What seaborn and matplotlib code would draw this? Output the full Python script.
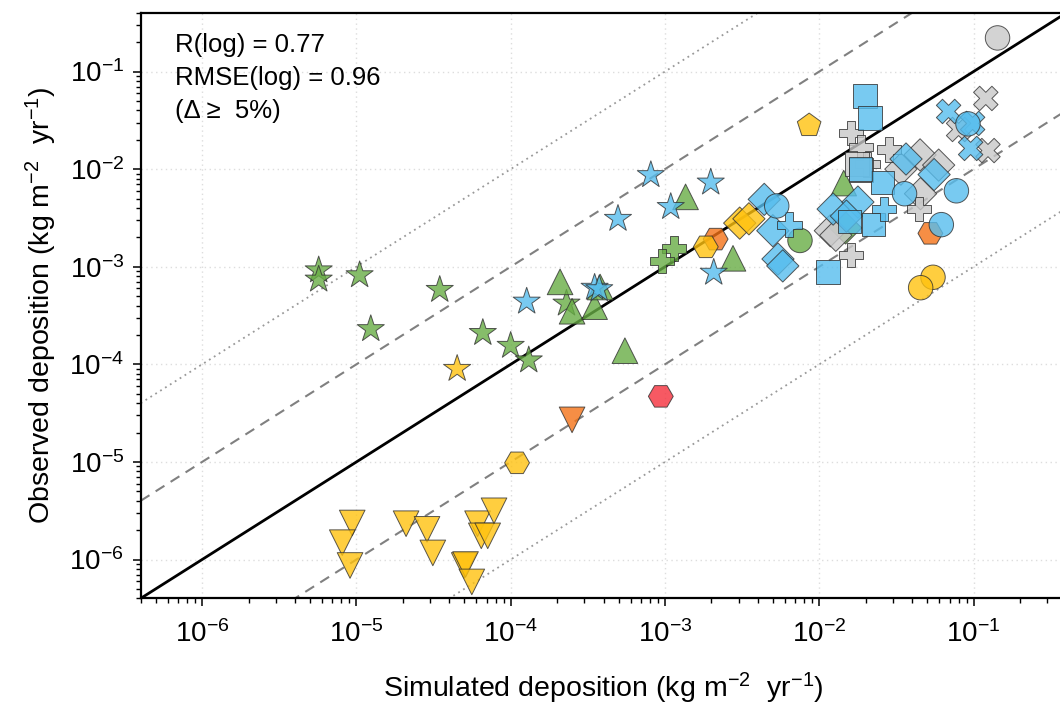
import numpy as np
import pandas as pd
import matplotlib
matplotlib.use("Agg")
import matplotlib.pyplot as plt
from matplotlib.ticker import FixedLocator, LogLocator, FuncFormatter, NullFormatter
import seaborn as sns

# ---------------- data (simulated, observed) ----------------
green_star_sim = [5.7e-6, 5.7e-6, 1.05e-5, 1.24e-5, 3.47e-5, 6.6e-5, 1.0e-4, 1.31e-4, 2.3e-4]
green_star_obs = [9.2e-4, 7.4e-4, 8.2e-4, 2.3e-4, 5.8e-4, 2.1e-4, 1.55e-4, 1.1e-4, 4.2e-4]

blue_star_sim = [1.27e-4, 3.5e-4, 3.75e-4, 4.96e-4, 8.1e-4, 1.09e-3, 1.98e-3, 2.07e-3]
blue_star_obs = [4.4e-4, 6.1e-4, 5.9e-4, 3.1e-3, 8.7e-3, 4.1e-3, 7.3e-3, 8.7e-4]

yellow_star_sim = [4.5e-5]
yellow_star_obs = [9.0e-5]

green_tri_sim = [2.09e-4, 2.5e-4, 3.5e-4, 3.8e-4, 5.5e-4, 1.36e-3, 2.76e-3, 1.44e-2]
green_tri_obs = [7.0e-4, 3.5e-4, 3.9e-4, 6.2e-4, 1.38e-4, 5.2e-3, 1.22e-3, 7.2e-3]

yellow_tdown_sim = [9.4e-6, 8.1e-6, 9.1e-6, 2.1e-5, 2.87e-5, 3.13e-5, 5.0e-5, 5.1e-5,
                    5.6e-5, 6.1e-5, 6.45e-5, 7.1e-5, 7.8e-5]
yellow_tdown_obs = [2.37e-6, 1.49e-6, 8.7e-7, 2.33e-6, 2.04e-6, 1.17e-6, 8.7e-7, 8.9e-7,
                    5.9e-7, 2.33e-6, 1.75e-6, 1.75e-6, 3.16e-6]

orange_tdown_sim = [2.5e-4]
orange_tdown_obs = [2.7e-5]

red_hex_sim = [9.4e-4]
red_hex_obs = [4.7e-5]

yellow_hex_sim = [1.1e-4, 1.84e-3]
yellow_hex_obs = [9.8e-6, 1.6e-3]

orange_hex_sim = [2.13e-3, 0.0525]
orange_hex_obs = [1.92e-3, 2.2e-3]

yellow_pent_sim = [8.6e-3]
yellow_pent_obs = [0.028]

yellow_diam_sim = [3.05e-3, 3.5e-3]
yellow_diam_obs = [2.8e-3, 3.1e-3]

yellow_circ_sim = [0.0546, 0.0454]
yellow_circ_obs = [7.8e-4, 6.1e-4]

green_plus_sim = [1.14e-3, 9.6e-4]
green_plus_obs = [1.54e-3, 1.15e-3]

green_circ_sim = [7.5e-3]
green_circ_obs = [1.86e-3]

green_diam_sim = [0.0148]
green_diam_obs = [2.5e-3]

gray_diam_sim = [0.045, 0.0594, 0.0338, 0.0453, 0.0118, 0.0128]
gray_diam_obs = [0.014, 0.011, 0.0100, 5.6e-3, 2.34e-3, 2.1e-3]

gray_plus_sim = [0.0161, 0.0187, 0.0283, 0.0161, 0.0443, 0.0205]
gray_plus_obs = [0.0236, 0.0168, 0.0159, 1.32e-3, 3.9e-3, 0.0112]

gray_sq_sim = [0.0176, 0.0187]
gray_sq_obs = [0.0113, 0.0098]

gray_x_sim = [0.12, 0.080, 0.124]
gray_x_obs = [0.053, 0.0255, 0.0155]

gray_circ_sim = [0.143]
gray_circ_obs = [0.221]

blue_diam_sim = [4.4e-3, 5.0e-3, 5.4e-3, 5.8e-3, 0.0123, 0.0178, 0.0365, 0.0555, 0.0150]
blue_diam_obs = [4.9e-3, 2.34e-3, 1.2e-3, 1.02e-3, 3.9e-3, 4.6e-3, 0.0127, 8.8e-3, 3.3e-3]

blue_circ_sim = [5.3e-3, 0.0357, 0.0774, 0.0618, 0.092]
blue_circ_obs = [4.2e-3, 5.6e-3, 6.0e-3, 2.7e-3, 0.0291]

blue_sq_sim = [0.0197, 0.0214, 0.0257, 0.0114, 0.0157, 0.0225, 0.0185]
blue_sq_obs = [0.056, 0.0335, 7.3e-3, 8.9e-4, 2.9e-3, 2.7e-3, 0.0100]

blue_plus_sim = [6.4e-3, 0.0263]
blue_plus_obs = [2.7e-3, 3.9e-3]

blue_x_sim = [0.0689, 0.0986, 0.0957]
blue_x_obs = [0.039, 0.0294, 0.0163]

tick_values = [1e-6, 1e-5, 1e-4, 1e-3, 1e-2, 1e-1]
annot_lines = ["R(log) = 0.77", "RMSE(log) = 0.96", "(Δ ≥  5%)"]
x_label = r"Simulated deposition (kg m$\mathregular{^{-2}}$  yr$\mathregular{^{-1}}$)"
y_label = r"Observed deposition (kg m$\mathregular{^{-2}}$  yr$\mathregular{^{-1}}$)"
axis_limits = [4e-7, 4e-1]

# ---------------- build table ----------------
groups = [
    ("yellow", "tdown", yellow_tdown_sim, yellow_tdown_obs),
    ("green", "star", green_star_sim, green_star_obs),
    ("yellow", "star", yellow_star_sim, yellow_star_obs),
    ("green", "tri", green_tri_sim, green_tri_obs),
    ("orange", "tdown", orange_tdown_sim, orange_tdown_obs),
    ("red", "hex", red_hex_sim, red_hex_obs),
    ("blue", "star", blue_star_sim, blue_star_obs),
    ("green", "plus", green_plus_sim, green_plus_obs),
    ("orange", "hex", orange_hex_sim, orange_hex_obs),
    ("yellow", "hex", yellow_hex_sim, yellow_hex_obs),
    ("yellow", "diam", yellow_diam_sim, yellow_diam_obs),
    ("yellow", "pent", yellow_pent_sim, yellow_pent_obs),
    ("yellow", "circ", yellow_circ_sim, yellow_circ_obs),
    ("green", "circ", green_circ_sim, green_circ_obs),
    ("green", "diam", green_diam_sim, green_diam_obs),
    ("gray", "diam", gray_diam_sim, gray_diam_obs),
    ("gray", "plus", gray_plus_sim, gray_plus_obs),
    ("gray", "sq", gray_sq_sim, gray_sq_obs),
    ("gray", "x", gray_x_sim, gray_x_obs),
    ("gray", "circ", gray_circ_sim, gray_circ_obs),
    ("blue", "diam", blue_diam_sim, blue_diam_obs),
    ("blue", "sq", blue_sq_sim, blue_sq_obs),
    ("blue", "plus", blue_plus_sim, blue_plus_obs),
    ("blue", "x", blue_x_sim, blue_x_obs),
    ("blue", "circ", blue_circ_sim, blue_circ_obs),
]
rows = []
for col, shp, xs, ys in groups:
    for xv, yv in zip(xs, ys):
        rows.append({"sim": xv, "obs": yv, "colour": col, "shape": shp})
df = pd.DataFrame(rows)

palette = {"green": "#68AD45", "blue": "#56BDEE", "gray": "#C9C9C9",
           "yellow": "#FFC20F", "orange": "#F47216", "red": "#F5303C"}
markers = {"star": "*", "tri": "^", "tdown": "v", "sq": "s", "diam": "D",
           "circ": "o", "plus": "P", "x": "X", "pent": "p", "hex": "H"}
marker_area = {"star": 420, "tri": 340, "tdown": 340, "sq": 290, "diam": 270,
               "circ": 310, "plus": 310, "x": 310, "pent": 320, "hex": 320}

# ---------------- style ----------------
sns.set_style("ticks")
plt.rcParams["font.family"] = ["Liberation Sans", "DejaVu Sans"]
plt.rcParams["mathtext.fontset"] = "custom"
plt.rcParams["mathtext.rm"] = "Liberation Sans"
plt.rcParams["mathtext.it"] = "Liberation Sans:italic"
plt.rcParams["mathtext.bf"] = "Liberation Sans:bold"
for key in ["text.color", "axes.labelcolor", "xtick.color", "ytick.color", "axes.edgecolor"]:
    plt.rcParams[key] = "black"

fig = plt.figure(figsize=(10.6, 7.06), dpi=100)
ax = fig.add_axes([0.1327, 0.1524, 0.8734, 0.8295])

ax.set_xscale("log")
ax.set_yscale("log")
ax.set_xlim(axis_limits)
ax.set_ylim(axis_limits)

# reference lines (1:1, factor 10, factor 100)
ref = np.array(axis_limits)
ax.plot(ref, ref * 100, color="#999999", lw=1.3, ls=(0, (1, 2.2)), zorder=1)
ax.plot(ref, ref / 100, color="#999999", lw=1.3, ls=(0, (1, 2.2)), zorder=1)
ax.plot(ref, ref * 10, color="#808080", lw=1.5, ls=(0, (5, 3.5)), zorder=1)
ax.plot(ref, ref / 10, color="#808080", lw=1.5, ls=(0, (5, 3.5)), zorder=1)
ax.plot(ref, ref, color="black", lw=2.0, zorder=2)

sns.scatterplot(data=df, x="sim", y="obs", hue="colour", style="shape",
                size="shape", sizes=marker_area,
                palette=palette, markers=markers, alpha=0.8,
                edgecolor="#303030", linewidth=0.7, legend=False, ax=ax, zorder=3)

ax.set_xlim(axis_limits)
ax.set_ylim(axis_limits)

fmt = FuncFormatter(lambda v, p: r"$\mathregular{10^{%d}}$" % int(round(np.log10(v))))
for axis in (ax.xaxis, ax.yaxis):
    axis.set_major_locator(FixedLocator(tick_values))
    axis.set_minor_locator(LogLocator(base=10, subs=np.arange(2, 10), numticks=20))
    axis.set_major_formatter(fmt)
    axis.set_minor_formatter(NullFormatter())

ax.tick_params(which="major", length=6, width=1.1, labelsize=20, direction="out", pad=6)
ax.tick_params(axis="x", which="major", pad=10)
ax.tick_params(which="minor", length=3.6, width=1.0, direction="out")
ax.tick_params(top=False, right=False, which="both")

ax.grid(True, which="major", color="#DDDDDD", lw=1.0, ls=(0, (1, 2.5)))
ax.set_axisbelow(True)

for sp in ax.spines.values():
    sp.set_linewidth(1.6)
    sp.set_color("black")

ax.set_xlabel(x_label, fontsize=20.5, labelpad=16)
ax.set_ylabel(y_label, fontsize=20.5, labelpad=7)

ypos = [0.945, 0.889, 0.832]
for txt, yy in zip(annot_lines, ypos):
    ax.text(0.037, yy, txt, transform=ax.transAxes, fontsize=18.5, va="center", ha="left")

fig.savefig("out.png", dpi=100)
